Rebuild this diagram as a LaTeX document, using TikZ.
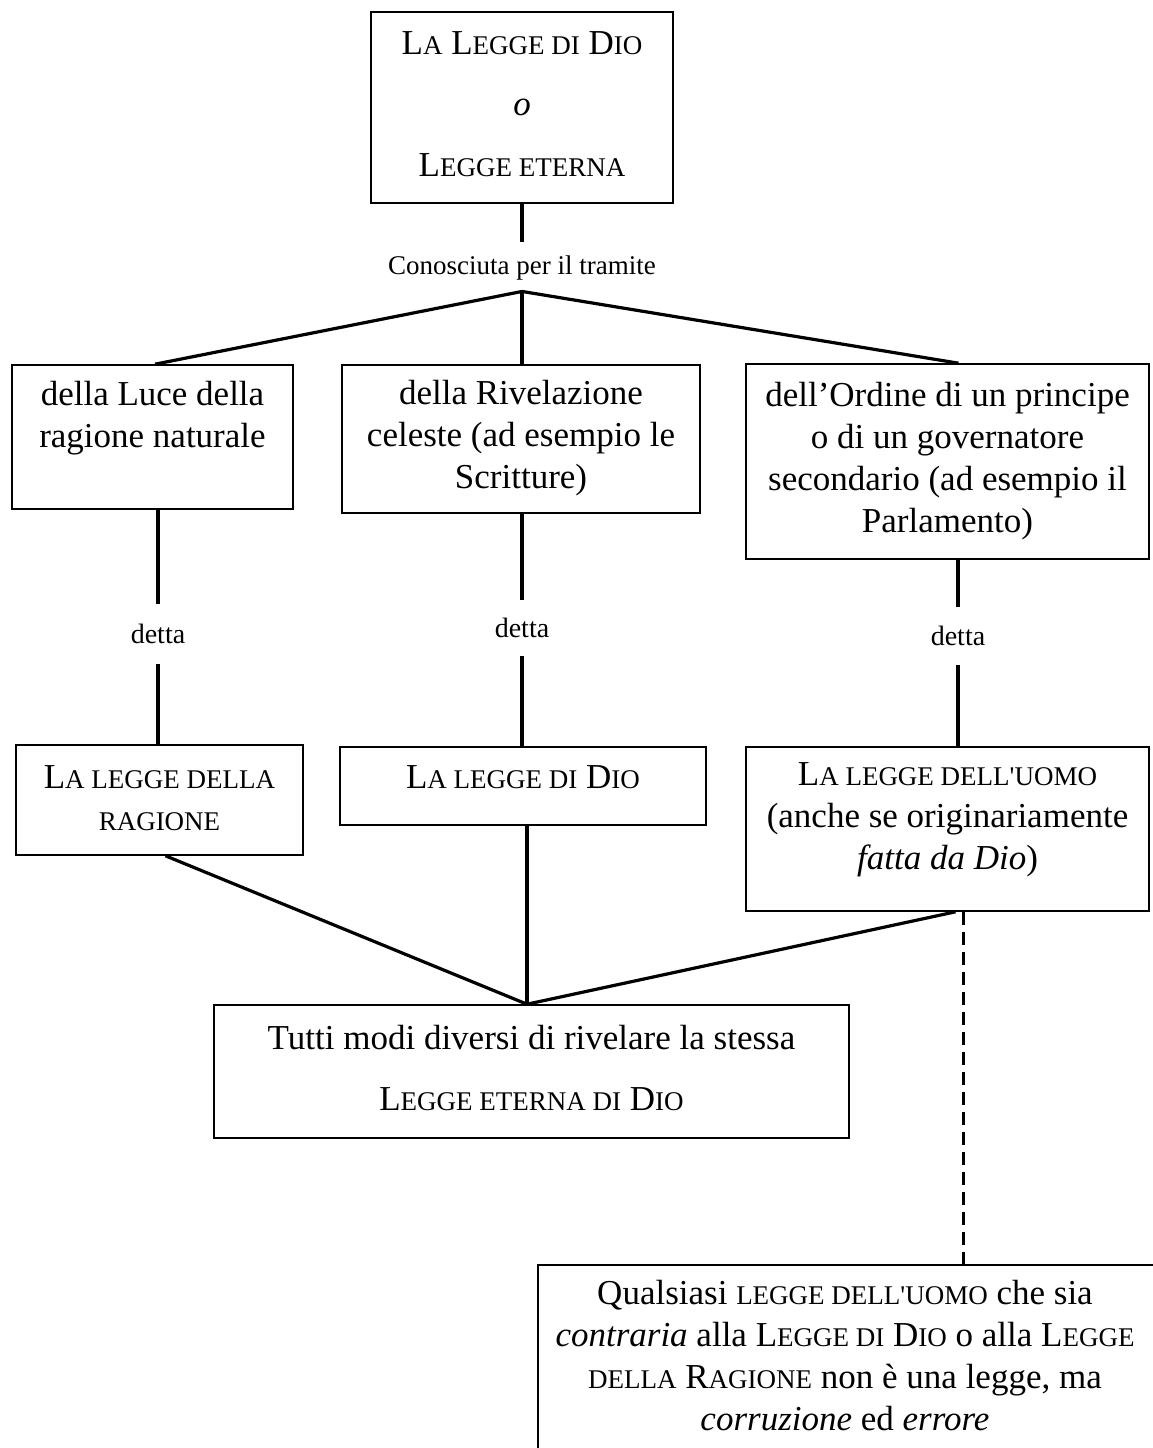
\documentclass[tikz,border=0pt]{standalone}
\usepackage{fontspec}
\setmainfont{Liberation Serif}
\newfontfamily\rawf{Liberation Serif}
\newcommand\sm[1]{{\fontsize{27}{32}\selectfont #1}}
\newcommand\sq{{\rawf'}}
\tikzset{
  box/.style={draw, line width=1.6pt, inner sep=0pt},
  txt/.style={align=center, font=\fontsize{35}{42}\selectfont, inner sep=0pt},
  txtwide/.style={align=center, font=\fontsize{35}{61}\selectfont, inner sep=0pt},
  lbl/.style={font=\fontsize{27}{32}\selectfont, inner xsep=2pt},
  lbld/.style={font=\fontsize{28}{32}\selectfont, inner xsep=2pt},
  conn/.style={line width=3.2pt},
  vconn/.style={line width=4pt},
  dconn/.style={line width=3pt, dash pattern=on 13pt off 7pt},
}
\begin{document}
\begin{tikzpicture}[x=1pt,y=-1pt]
\useasboundingbox (0,0) rectangle (1153,1448);
\fill[white] (0,0) rectangle (1153,1448);

% top box
\node[box, minimum width=302pt, minimum height=191pt] (top) at (522,107.5) {};
\node[txtwide] (ttop) at (522,104.5) {L\sm{A} L\sm{EGGE DI} D\sm{IO}\\\textit{o}\\L\sm{EGGE ETERNA}};

\node[lbl, inner ysep=14pt] (lk) at (522,268) {Conosciuta per il tramite};

% second row
\node[box, minimum width=281pt, minimum height=144pt] (b1) at (152.5,437) {};
\node[txt] at (152.5,418) {della Luce della\\ragione naturale};
\node[box, minimum width=358pt, minimum height=148pt] (b2) at (521,439) {};
\node[txt] at (521,438) {della Rivelazione\\celeste (ad esempio le\\Scritture)};
\node[box, minimum width=403pt, minimum height=195pt] (b3) at (947.5,461.5) {};
\node[txt] at (947.5,461) {dell’Ordine di un principe\\o di un governatore\\secondario (ad esempio il\\Parlamento)};

% detta labels
\node[lbld, inner ysep=20pt] (d1) at (158,634) {detta};
\node[lbld, inner ysep=18pt] (d2) at (522,628) {detta};
\node[lbld, inner ysep=19pt] (d3) at (958,636) {detta};

% third row
\node[box, minimum width=287pt, minimum height=110pt] (b4) at (159.5,800) {};
\node[txt] at (159.5,798) {L\sm{A LEGGE DELLA}\\\sm{RAGIONE}};
\node[box, minimum width=366pt, minimum height=78pt] (b5) at (523,786) {};
\node[txt] at (523,777) {L\sm{A LEGGE DI} D\sm{IO}};
\node[box, minimum width=403pt, minimum height=164pt] (b6) at (947.5,829) {};
\node[txt] at (947.5,820) {L\sm{A LEGGE DELL\sq UOMO}\\(anche se originariamente\\\textit{fatta da Dio})};

% bottom box
\node[box, minimum width=635pt, minimum height=133pt] (b7) at (531.5,1071.5) {};
\node[txtwide] at (531.5,1067.5) {Tutti modi diversi di rivelare la stessa\\L\sm{EGGE ETERNA DI} D\sm{IO}};

% last box (runs past the edge)
\begin{scope}
\clip (0,0) rectangle (1153,1448);
\node[box, minimum width=640pt, minimum height=200pt] (b8) at (858,1365) {};
\end{scope}
\node[txt] at (845,1356) {Qualsiasi \sm{LEGGE DELL\sq UOMO} che sia\\\textit{contraria} alla L\sm{EGGE DI} D\sm{IO} o alla L\sm{EGGE}\\\sm{DELLA} R\sm{AGIONE} non è una legge, ma\\\textit{corruzione} ed \textit{errore}};

% connectors
\draw[conn] (top.south) -- (lk.north);
\draw[conn] ([yshift=3pt]lk.south) -- ([xshift=2.5pt]b1.north);
\draw[conn] ([yshift=3pt]lk.south) -- ([xshift=1pt]b2.north);
\draw[conn] ([yshift=3pt]lk.south) -- ([xshift=11pt]b3.north);

\draw[vconn] (d1.north) -- (d1.north |- b1.south);
\draw[vconn] (d1.south) -- (d1.south |- b4.north);
\draw[conn] (d2.north) -- (d2.north |- b2.south);
\draw[conn] (d2.south) -- (d2.south |- b5.north);
\draw[conn] (d3.north) -- (d3.north |- b3.south);
\draw[conn] (d3.south) -- (d3.south |- b6.north);

\coordinate (jb) at ([xshift=-4.5pt]b7.north);
\draw[conn] ([xshift=6pt]b4.south) -- (jb);
\draw[conn] ([xshift=4pt]b5.south) -- (jb);
\draw[conn] ([xshift=8pt]b6.south) -- (jb);

\draw[dconn] ([xshift=15.5pt]b6.south) -- ([xshift=15.5pt]b6.south |- b8.north);
\end{tikzpicture}
\end{document}
